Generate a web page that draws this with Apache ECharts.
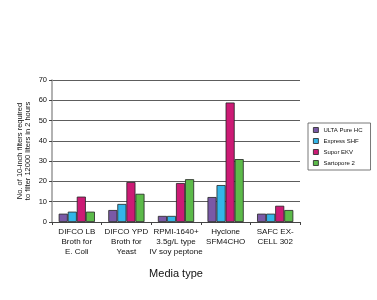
<!DOCTYPE html>
<html>
<head>
<meta charset="utf-8">
<script src="https://cdn.jsdelivr.net/npm/echarts@6/dist/echarts.min.js"></script>
<style>
  html, body { margin: 0; padding: 0; background: #fff; }
  #chart { width: 377px; height: 300px; }
</style>
</head>
<body>
<div id="chart"></div>
<script>
  var categories = [
    'DIFCO LB\nBroth for\nE. Coli',
    'DIFCO YPD\nBroth for\nYeast',
    'RPMI-1640+\n3.5g/L type\nIV soy peptone',
    'Hyclone\nSFM4CHO',
    'SAFC EX-\nCELL 302'
  ]
  var ultaPureHC  = [4.1, 5.9, 3.0, 12.3, 4.1]
  var expressSHF  = [5.1, 8.9, 3.0, 18.2, 4.1]
  var suporEKV    = [12.5, 19.7, 19.2, 58.9, 8.0]
  var sartopore2  = [5.1, 13.9, 21.1, 31.0, 5.9]
  var seriesNames = ['ULTA Pure HC', 'Express SHF', 'Supor EKV', 'Sartopore 2']
  var yTicks = [0, 10, 20, 30, 40, 50, 60, 70]

  var COLORS = ['#7a59a6', '#33b5e8', '#cc1a75', '#5cba4a']
  var FONT = 'Liberation Sans, Arial, sans-serif'

  var chart = echarts.init(document.getElementById('chart'))

  function bar(name, data, color) {
    return {
      name: name,
      type: 'bar',
      data: data,
      barGap: '0%',
      barCategoryGap: '27%',
      itemStyle: { color: color, borderColor: '#222', borderWidth: 0.8 }
    }
  }

  chart.setOption({
    animation: false,
    backgroundColor: '#fff',
    textStyle: { fontFamily: FONT },
    grid: { left: 52, right: 77, top: 80, bottom: 78 },
    legend: {
      orient: 'vertical',
      left: 308,
      top: 123,
      width: 60,
      padding: [4, 8, 4, 5],
      itemGap: 5,
      itemWidth: 5,
      itemHeight: 5,
      borderColor: '#555',
      borderWidth: 0.8,
      icon: 'rect',
      textStyle: { fontSize: 6, color: '#111', fontFamily: FONT },
      data: seriesNames.map(function (n, i) {
        return { name: n, itemStyle: { color: COLORS[i], borderColor: '#222', borderWidth: 0.8 } }
      })
    },
    xAxis: {
      type: 'category',
      data: categories,
      name: 'Media type',
      nameLocation: 'middle',
      nameGap: 46,
      nameTextStyle: { fontSize: 11, color: '#111', fontFamily: FONT },
      axisLine: { lineStyle: { color: '#444', width: 1 } },
      axisTick: { show: true, length: 3, lineStyle: { color: '#444' } },
      axisLabel: { fontSize: 8, color: '#111', lineHeight: 10, margin: 5, interval: 0, fontFamily: FONT }
    },
    yAxis: {
      type: 'value',
      min: yTicks[0],
      max: yTicks[yTicks.length - 1],
      interval: 10,
      name: 'No. of 10-inch filters required\nto filter 12000 liters in 2 hours',
      nameLocation: 'middle',
      nameGap: 20,
      nameMoveOverlap: false,
      nameRotate: 90,
      nameTextStyle: { fontSize: 7.5, color: '#111', lineHeight: 8, fontFamily: FONT },
      axisLine: { show: true, lineStyle: { color: '#999', width: 1.5 } },
      axisTick: { show: true, length: 3, lineStyle: { color: '#444' } },
      axisLabel: { fontSize: 7.5, color: '#111', margin: 5, fontFamily: FONT },
      splitLine: { lineStyle: { color: '#333', width: 0.8 } }
    },
    series: [
      bar(seriesNames[0], ultaPureHC, COLORS[0]),
      bar(seriesNames[1], expressSHF, COLORS[1]),
      bar(seriesNames[2], suporEKV, COLORS[2]),
      bar(seriesNames[3], sartopore2, COLORS[3])
    ]
  })
</script>
</body>
</html>
